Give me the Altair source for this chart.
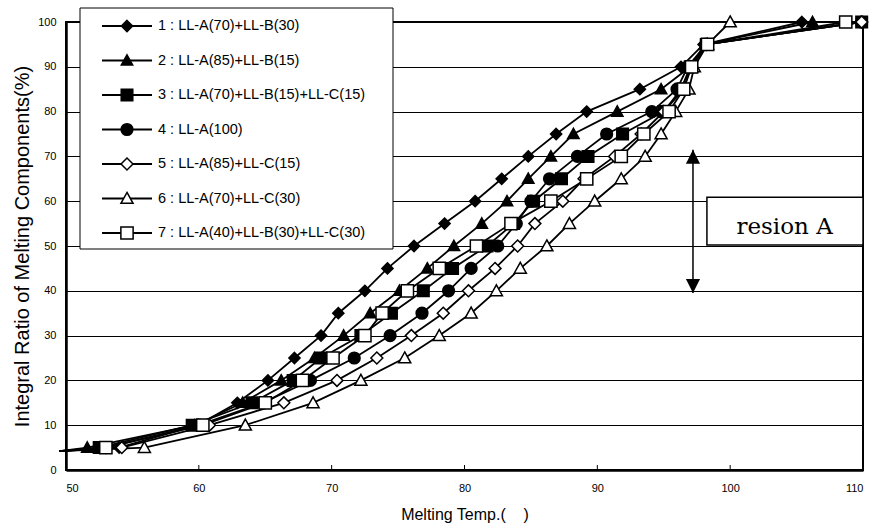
import altair as alt
import pandas as pd

# ---------------- data ----------------
ratio = [5, 10, 15, 20, 25, 30, 35, 40, 45, 50, 55, 60, 65, 70, 75, 80, 85, 90, 95, 100]

labels = [
    "1 : LL-A(70)+LL-B(30)",
    "2 : LL-A(85)+LL-B(15)",
    "3 : LL-A(70)+LL-B(15)+LL-C(15)",
    "4 : LL-A(100)",
    "5 : LL-A(85)+LL-C(15)",
    "6 : LL-A(70)+LL-C(30)",
    "7 : LL-A(40)+LL-B(30)+LL-C(30)",
]

s1 = [54.0, 59.9, 62.9, 65.2, 67.2, 69.2, 70.5, 72.5, 74.2, 76.2, 78.5, 80.8, 82.8, 84.8, 86.9, 89.2, 93.2, 96.3, 98.0, 105.4]
s2 = [51.6, 59.7, 63.3, 66.2, 68.7, 70.9, 72.9, 75.1, 77.2, 79.2, 81.3, 83.2, 84.8, 86.5, 88.2, 91.5, 94.8, 97.0, 98.1, 106.2]
s3 = [52.5, 59.5, 64.0, 67.1, 69.2, 72.2, 74.5, 76.9, 79.1, 81.7, 83.7, 85.2, 87.3, 89.3, 91.9, 95.0, 96.3, 97.0, 98.2, 109.9]
s4 = [53.0, 60.0, 64.8, 68.4, 71.7, 74.4, 76.8, 78.8, 80.5, 82.5, 83.9, 85.0, 86.4, 88.5, 90.7, 94.1, 96.0, 96.8, 98.2, 109.9]
s5 = [54.2, 60.8, 66.4, 70.4, 73.4, 76.0, 78.4, 80.3, 82.3, 84.0, 85.3, 87.4, 89.0, 91.3, 93.3, 95.0, 96.5, 97.0, 98.2, 109.9]
s6 = [55.9, 63.5, 68.6, 72.2, 75.5, 78.1, 80.5, 82.4, 84.2, 86.2, 87.9, 89.8, 91.8, 93.6, 94.8, 95.9, 96.9, 97.3, 98.3, 100.0]
s7 = [53.0, 60.3, 65.0, 67.8, 70.1, 72.5, 73.8, 75.7, 78.1, 80.9, 83.5, 86.5, 89.2, 91.8, 93.5, 95.4, 96.5, 97.1, 98.3, 108.7]
series_vals = [s1, s2, s3, s4, s5, s6, s7]

# common starting point of the curves (no marker)
start_temp = 49.5
start_ratio = 4.2

x_ticks = [50, 60, 70, 80, 90, 100, 110]
y_ticks = [0, 10, 20, 30, 40, 50, 60, 70, 80, 90, 100]
inner_ticks = [60, 70, 80, 90, 100]

# region annotation
arrow_temp = 97.2
arrow_top = 71.5
arrow_bottom = 39.5
region_x = [98.25, 110.0]
region_y = [50.2, 60.9]
region_text_pos = [104.1, 52.6]

# ---------------- marker styles ----------------
DIAMOND = "M0,-1 L1,0 L0,1 L-1,0 Z"
TRIANGLE = "M0,-1 L1,0.8 L-1,0.8 Z"
SQUARE = "M-1,-1 L1,-1 L1,1 L-1,1 Z"
shape_range = [DIAMOND, TRIANGLE, SQUARE, "circle", DIAMOND, TRIANGLE, SQUARE]
fill_range = ["black", "black", "black", "black", "white", "white", "white"]
size_range = [125, 150, 85, 95, 70, 135, 70]

rows_line, rows_pt = [], []
for lab, vals in zip(labels, series_vals):
    rows_line.append({"series": lab, "temp": start_temp, "ratio": start_ratio})
    for r, t in zip(ratio, vals):
        rows_line.append({"series": lab, "temp": t, "ratio": r})
        rows_pt.append({"series": lab, "temp": t, "ratio": r})
df_line = pd.DataFrame(rows_line)
df_pt = pd.DataFrame(rows_pt)

FONT = "Liberation Sans"
NB = "\u00a0"

xs = alt.X(
    "temp:Q",
    scale=alt.Scale(domain=[50, 110], nice=False, zero=False),
    axis=alt.Axis(
        values=x_ticks, title="Melting Temp.(" + NB * 4 + ")", grid=False, ticks=False,
        labelFontSize=11, labelPadding=12, titleFontSize=16, titlePadding=13,
        domainWidth=2.5, domainColor="black", labelColor="black", titleColor="black",
        labelFont=FONT, titleFont=FONT, titleFontWeight="normal", format="d",
    ),
)
ys = alt.Y(
    "ratio:Q",
    scale=alt.Scale(domain=[0, 100], nice=False),
    axis=alt.Axis(
        values=y_ticks, title="Integral Ratio of Melting Components(%)", grid=True,
        gridColor="black", gridWidth=1, gridOpacity=1, ticks=False,
        labelFontSize=11, labelPadding=10, titleFontSize=20, titlePadding=5,
        domainWidth=2.5, domainColor="black", labelColor="black", titleColor="black",
        labelFont=FONT, titleFont=FONT, titleFontWeight="normal", format="d",
    ),
)

shape_enc = alt.Shape("series:N", scale=alt.Scale(domain=labels, range=shape_range), legend=None)
fill_enc = alt.Fill("series:N", scale=alt.Scale(domain=labels, range=fill_range), legend=None)
size_enc = alt.Size("series:N", scale=alt.Scale(domain=labels, range=size_range), legend=None)

lines = alt.Chart(df_line).mark_line(color="black", strokeWidth=1.8, clip=False).encode(
    x=xs, y=ys, detail="series:N", order="ratio:Q"
)
points = alt.Chart(df_pt).mark_point(filled=True, stroke="black", strokeWidth=1.5, opacity=1).encode(
    x="temp:Q", y="ratio:Q", shape=shape_enc, fill=fill_enc, size=size_enc
)

tick_df = pd.DataFrame({"t": inner_ticks})
inner = alt.Chart(tick_df).mark_rule(color="black", strokeWidth=1).encode(
    x="t:Q", y=alt.value(448), y2=alt.value(443)
)

# region A annotation
arrow_df = pd.DataFrame({"x": [arrow_temp], "y1": [arrow_bottom], "y2": [arrow_top]})
arrow_line = alt.Chart(arrow_df).mark_rule(color="black", strokeWidth=1.5).encode(
    x="x:Q", y="y1:Q", y2="y2:Q"
)
up_df = pd.DataFrame({"x": [arrow_temp], "y": [arrow_top]})
down_df = pd.DataFrame({"x": [arrow_temp], "y": [arrow_bottom]})
head_up = alt.Chart(up_df).mark_point(
    filled=True, color="black", opacity=1, size=200, shape="M0,0 L-1,2 L1,2 Z"
).encode(x="x:Q", y="y:Q")
head_down = alt.Chart(down_df).mark_point(
    filled=True, color="black", opacity=1, size=200, shape="M0,0 L-1,-2 L1,-2 Z"
).encode(x="x:Q", y="y:Q")
reg_df = pd.DataFrame({"x1": [region_x[0]], "x2": [region_x[1]], "y1": [region_y[0]], "y2": [region_y[1]]})
reg_box = alt.Chart(reg_df).mark_rect(fill="white", stroke="black", strokeWidth=1.5).encode(
    x="x1:Q", x2="x2:Q", y="y1:Q", y2="y2:Q"
)
reg_txt_df = pd.DataFrame({"x": [region_text_pos[0]], "y": [region_text_pos[1]], "t": ["resion A"]})
reg_txt = alt.Chart(reg_txt_df).mark_text(
    font="DejaVu Serif", fontSize=23, color="black", align="center", baseline="alphabetic"
).encode(x="x:Q", y="y:Q", text="t:N")

main = alt.layer(inner, lines, points, arrow_line, head_up, head_down, reg_box, reg_txt)

# ---------------- legend ----------------
leg_df = pd.DataFrame({"series": labels, "row": list(range(len(labels)))})
leg_y = alt.Y("row:Q", scale=alt.Scale(domain=[0, 6], range=[4, 211]), axis=None)

leg_box = alt.Chart(leg_df).mark_rect(fill="white", stroke="black", strokeWidth=1).encode(
    x=alt.value(14), x2=alt.value(327), y=alt.value(-14), y2=alt.value(227)
).transform_filter(alt.datum.row == 0)
leg_lines = alt.Chart(leg_df).mark_rule(color="black", strokeWidth=1.8).encode(
    x=alt.value(36), x2=alt.value(86), y=leg_y
)
leg_pts = alt.Chart(leg_df).mark_point(filled=True, stroke="black", strokeWidth=1.5, opacity=1).encode(
    x=alt.value(61), y=leg_y, shape=shape_enc, fill=fill_enc, size=size_enc
)
leg_txt = alt.Chart(leg_df).mark_text(
    font=FONT, fontSize=14.5, color="black", align="left", baseline="middle"
).encode(x=alt.value(92), y=leg_y, text="series:N")

legend = alt.layer(leg_box, leg_lines, leg_pts, leg_txt)

chart = (
    alt.layer(main, legend)
    .resolve_scale(x="independent", y="independent")
    .properties(
        width=797, height=448,
        padding={"left": 66, "top": 22, "right": 14, "bottom": 60},
        autosize=alt.AutoSizeParams(type="none"),
        background="white",
    )
    .configure_view(stroke="black", strokeWidth=2)
)

chart.save("out.html", embed_options={"renderer": "svg", "actions": False})
